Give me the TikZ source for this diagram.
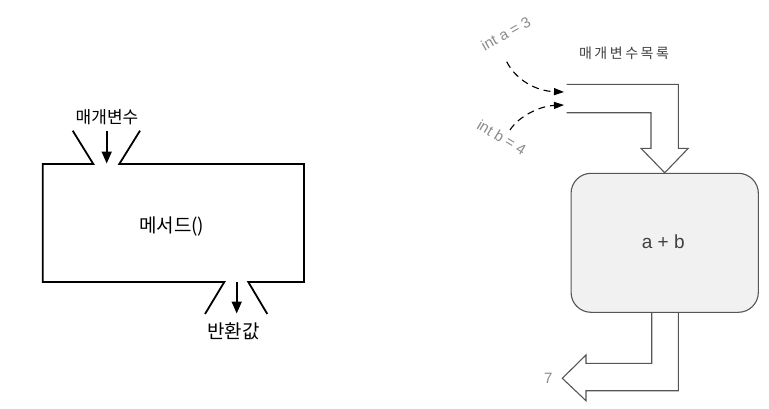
\documentclass[tikz,border=0pt]{standalone}
\usepackage{fontspec}
\setmainfont{Liberation Sans}
\newfontfamily\kr{Noto Sans CJK KR}
\usetikzlibrary{arrows.meta}
\definecolor{lineGray}{HTML}{555555}
\definecolor{textGray}{HTML}{8A8A8A}
\definecolor{boxFill}{HTML}{F1F1F1}
\tikzset{
  handline/.style={line width=1.8pt, black, line join=miter},
  handarrow/.style={line width=1.8pt, -{Triangle[length=12pt,width=10pt]}},
  blockline/.style={line width=1.1pt, lineGray, line join=miter},
  paramarrow/.style={line width=1.1pt, black, dash pattern=on 7pt off 5pt, -{Triangle[length=10pt,width=7pt]}},
  handlabel/.style={font=\kr\fontsize{17}{17}\selectfont, inner sep=0pt},
  gravlabel/.style={font=\fontsize{15}{15}\selectfont, textGray, inner sep=0pt}
}
\begin{document}
\begin{tikzpicture}[x=1pt,y=-1pt]
  \useasboundingbox (0,0) rectangle (769,408);

  % Left: method box with funnel openings
  \draw[handline] (72.7,130.7) -- (93.3,164) -- (42.7,164) -- (42.7,282) -- (224.3,282) -- (205,314);
  \draw[handline] (267.3,314) -- (248.3,282) -- (304,282) -- (304,164) -- (119.3,164) -- (140,130.7);

  \node[handlabel] (paramIn) at (107,116.7) {매개변수};
  \node[handlabel, font=\kr\fontsize{19}{19}\selectfont] (methodName) at (171.7,226.7) {메서드()};
  \node[handlabel, font=\kr\fontsize{19}{19}\selectfont] (retOut) at (233.3,331.7) {반환값};

  \coordinate (inTop) at (106.7,130.7);
  \coordinate (inEnd) at (106.7,163.5);
  \coordinate (outTop) at (236.7,282);
  \coordinate (outEnd) at (236.7,313.5);
  \draw[handarrow] (inTop) -- (inEnd);
  \draw[handarrow] (outTop) -- (outEnd);

  % Right: a + b with parameter list
  \node[blockline, draw, fill=boxFill, rounded corners=20pt, minimum width=187.3pt,
        minimum height=139pt, inner sep=0pt] (sumBox) at (664.7,242.8) {};
  \node[font=\fontsize{19}{19}\selectfont, text=black!75] (sumText) at (663.3,241.7) {a + b};

  \node[font=\fontsize{14}{14}\selectfont\kr\addfontfeature{LetterSpace=18}, text=black!75, inner sep=0pt]
    (paramList) at (624,53.3) {매개변수목록};

  \draw[blockline] (566.7,84.3) -- (678.3,84.3) -- (678.3,148.3) -- (688.3,148.3) -- (sumBox.north)
    -- (641,148.3) -- (651,148.3) -- (651,112.7) -- (566.7,112.7);
  \draw[blockline] (651.7,312.3) -- (651.7,363.3) -- (586,363.3) -- (586,355) -- (562.3,378.3)
    -- (586,400.7) -- (586,390.7) -- (678.3,390.7) -- (678.3,312.3);

  \node[gravlabel, rotate=29] (argA) at (505.7,33.3) {int a = 3};
  \node[gravlabel, rotate=-31] (argB) at (501.7,137.3) {int b = 4};
  \node[font=\fontsize{15}{15}\selectfont, textGray, inner sep=0pt] (result) at (548.3,378.3) {7};

  \coordinate (aStart) at (506.7,61.7);
  \coordinate (aEnd) at (564,92);
  \coordinate (bStart) at (510,130);
  \coordinate (bEnd) at (564,105);
  \draw[paramarrow] (aStart) .. controls (516,80) and (536,91) .. (aEnd);
  \draw[paramarrow] (bStart) .. controls (519,116) and (540,106) .. (bEnd);
\end{tikzpicture}
\end{document}
